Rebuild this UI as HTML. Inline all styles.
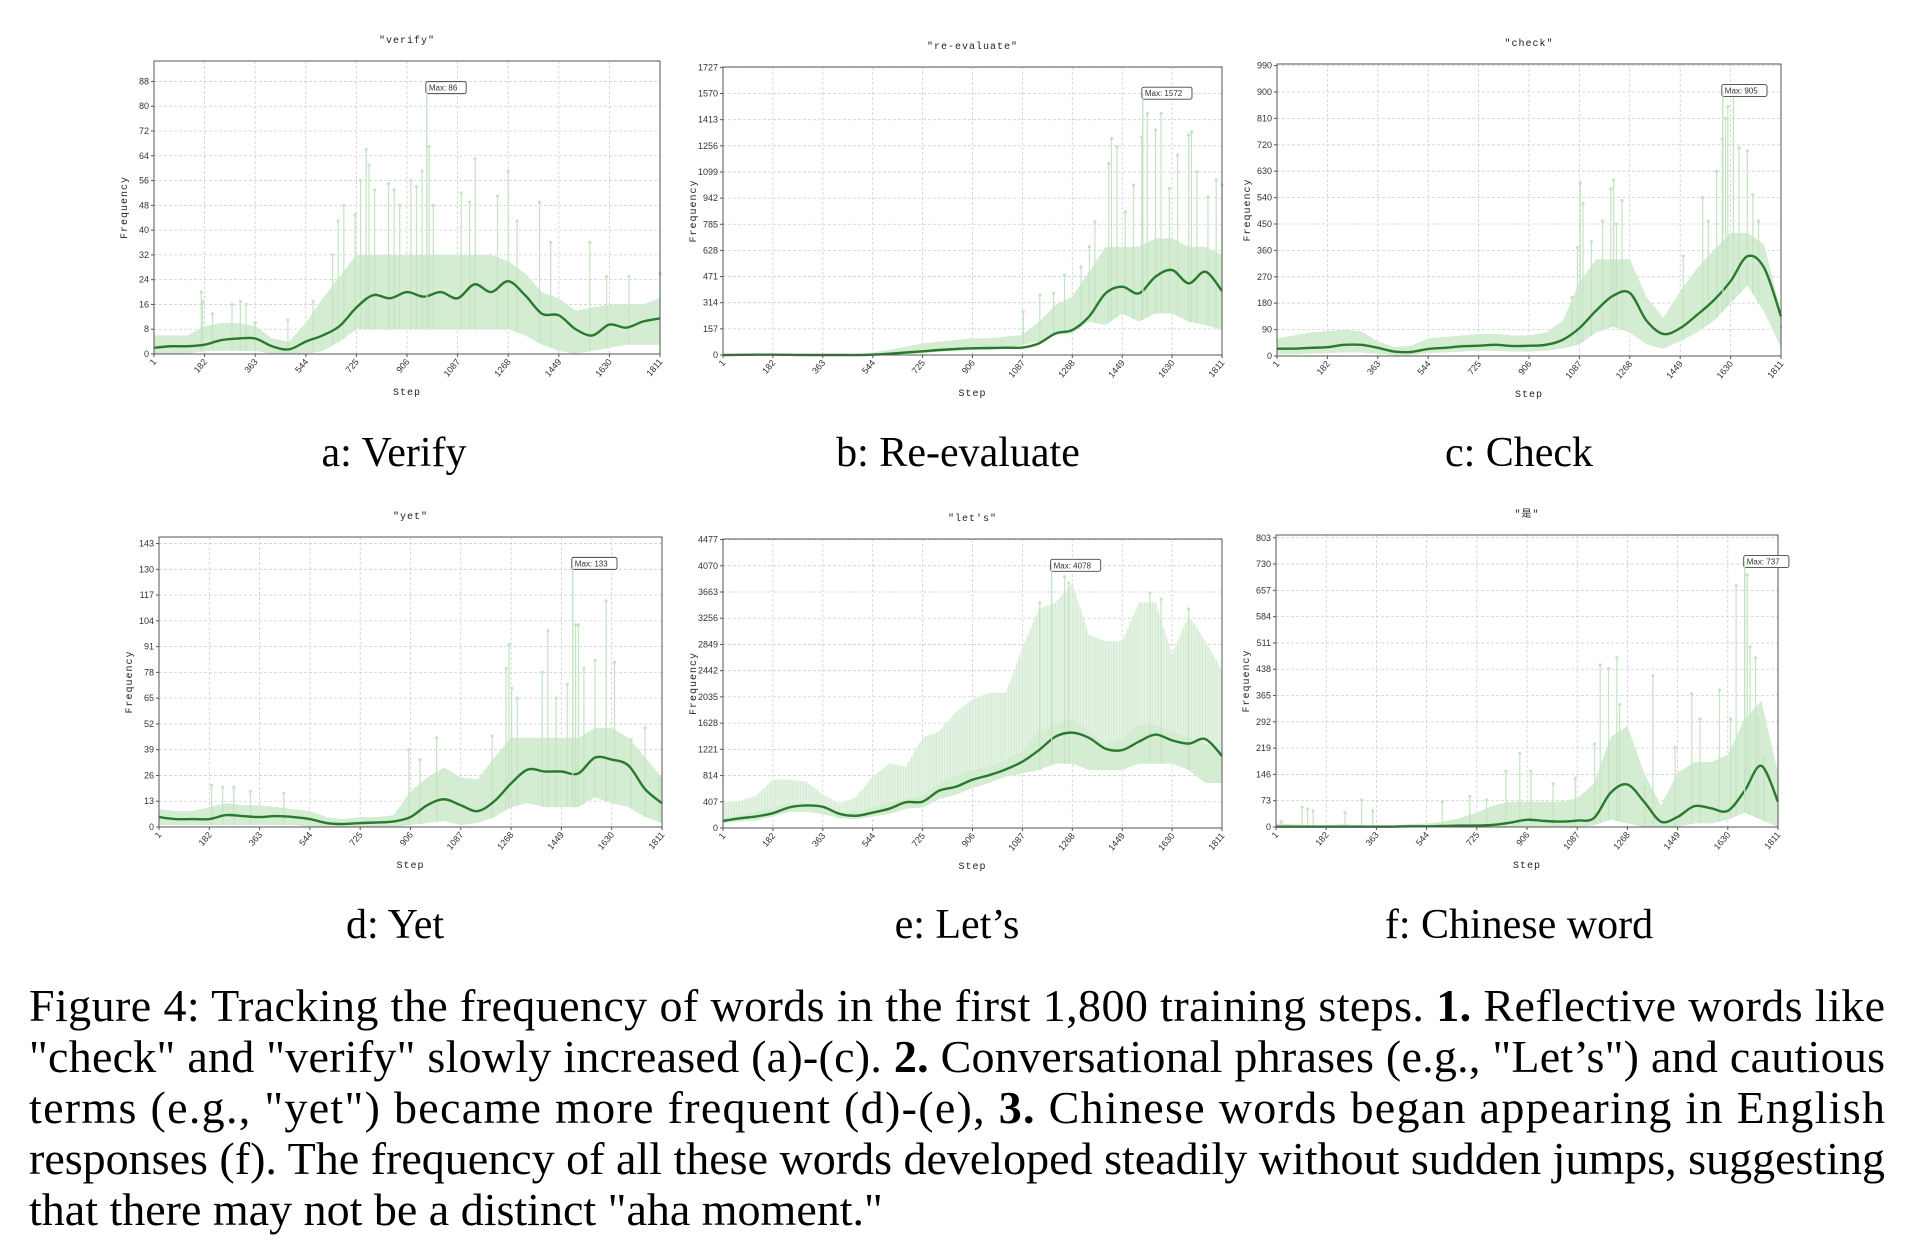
<!DOCTYPE html>
<html><head><meta charset="utf-8"><style>
html,body{margin:0;padding:0;background:#fff;}
svg{display:block;}
.tk{font-family:"WenQuanYi Zen Hei","Liberation Sans",sans-serif;font-size:9px;fill:#333;}
.ttl{font-family:"WenQuanYi Zen Hei","Liberation Mono",monospace;font-size:10px;fill:#222;letter-spacing:1px;}
.cap{font-family:"Liberation Serif",serif;font-size:42px;fill:#000;}
.body{font-family:"Liberation Serif",serif;font-size:46px;fill:#000;}
</style></head><body>
<svg id="fig" width="1916" height="1248" viewBox="0 0 1916 1248" xmlns="http://www.w3.org/2000/svg">
<g id="charts"></g>
<text class="cap" x="394" y="466" text-anchor="middle">a: Verify</text>
<text class="cap" x="958" y="466" text-anchor="middle">b: Re-evaluate</text>
<text class="cap" x="1519" y="466" text-anchor="middle">c: Check</text>
<text class="cap" x="395" y="938" text-anchor="middle">d: Yet</text>
<text class="cap" x="957" y="938" text-anchor="middle">e: Let’s</text>
<text class="cap" x="1519" y="938" text-anchor="middle">f: Chinese word</text>
<g>
<text class="body" x="29" y="1021" textLength="1856" lengthAdjust="spacing">Figure 4: Tracking the frequency of words in the first 1,800 training steps. <tspan font-weight="bold">1.</tspan> Reflective words like</text>
<text class="body" x="29" y="1072" textLength="1856" lengthAdjust="spacing">"check" and "verify" slowly increased (a)-(c). <tspan font-weight="bold">2.</tspan> Conversational phrases (e.g., "Let’s") and cautious</text>
<text class="body" x="29" y="1123" textLength="1856" lengthAdjust="spacing">terms (e.g., "yet") became more frequent (d)-(e), <tspan font-weight="bold">3.</tspan> Chinese words began appearing in English</text>
<text class="body" x="29" y="1174" textLength="1856" lengthAdjust="spacing">responses (f). The frequency of all these words developed steadily without sudden jumps, suggesting</text>
<text class="body" x="29" y="1225">that there may not be a distinct "aha moment."</text>
</g>
</svg>
<script>
// shared x-axis data
const xTicks = [1,182,363,544,725,906,1087,1268,1449,1630,1811];
// values sampled at 31 evenly spaced steps (1 .. 1811)
const verifySmooth = [2,2.5,2.5,3,4.5,5,5,2.5,1.5,4,6,9,15,19,18,20,18.5,20,18,22.5,20,23.5,19,13,12.5,8,6,9.5,8.5,10.5,11.5];
const verifyHi = [6,6,6,9,10,10,9,5,4,10,18,25,32,32,32,32,32,32,32,32,32,30,26,20,18,14,15,16,16,16,18];
const verifyLo = [0,0,0,1,1,1,1,0,0,0,1,4,8,8,8,8,8,8,8,8,8,8,6,3,1,0,1,2,3,3,3];
const verifySpikes = [[170,20],[175,17],[210,13],[280,16],[310,17],[330,16],[363,10],[480,11],[570,17],[640,32],[660,43],[680,48],[720,45],[740,56],[760,66],[770,61],[790,53],[840,55],[860,53],[880,48],[920,56],[940,54],[960,59],[977,86],[985,67],[1000,48],[1100,52],[1130,49],[1150,63],[1230,51],[1268,59],[1300,43],[1380,49],[1420,36],[1560,36],[1620,25],[1700,25],[1811,26]];
const verifyYTicks = [0,8,16,24,32,40,48,56,64,72,80,88];

const reevalSmooth = [0,1,2,2,1,0,0,0,0,2,8,15,22,30,36,40,42,44,45,70,130,150,230,370,410,370,470,510,430,500,385];
const reevalHi = [5,5,10,8,5,5,5,5,5,15,30,50,70,80,90,100,100,110,120,200,300,350,500,650,650,650,700,700,650,650,600];
const reevalLo = [0,0,0,0,0,0,0,0,0,0,0,5,10,20,25,30,30,40,60,80,120,130,200,180,250,200,250,250,200,180,150];
const reevalSpikes = [[1090,260],[1150,360],[1200,370],[1240,480],[1300,530],[1330,650],[1350,800],[1400,1150],[1410,1300],[1430,1250],[1460,860],[1490,1020],[1520,1310],[1524,1572],[1540,1450],[1570,1350],[1590,1450],[1620,1000],[1650,1200],[1690,1320],[1700,1340],[1720,1100],[1760,950],[1790,1050],[1811,1020]];
const reevalYTicks = [0,157,314,471,628,785,942,1099,1256,1413,1570,1727];

const checkSmooth = [25,25,28,30,38,38,28,15,14,24,28,33,35,38,34,35,38,55,95,155,205,215,120,75,95,140,190,255,340,300,135];
const checkHi = [60,70,80,85,90,85,50,30,35,60,65,70,75,75,70,70,80,120,250,330,330,330,200,130,220,300,360,420,420,380,150];
const checkLo = [5,5,8,10,12,12,8,2,3,10,12,15,18,18,15,15,18,25,40,80,100,80,40,25,50,80,120,180,240,150,30];
const checkSpikes = [[1060,200],[1080,370],[1090,590],[1100,520],[1130,390],[1170,460],[1200,570],[1210,600],[1220,450],[1240,530],[1460,340],[1530,540],[1550,460],[1580,630],[1600,740],[1602,905],[1612,810],[1620,850],[1640,890],[1660,710],[1690,700],[1710,550],[1730,460],[1811,100]];
const checkYTicks = [0,90,180,270,360,450,540,630,720,810,900,990];

const yetSmooth = [5,4,4,4,6,5.5,5,5.5,5,4,2,1.5,2,2.3,2.8,5,11,14,11,8,13,22,29,28,28,27,35,34,31,19,12];
const yetHi = [9,8,8,10,12,11,11,10,9,8,5,4,5,5,6,18,25,30,25,24,35,45,45,45,45,45,50,50,45,35,25];
const yetLo = [1,1,1,1,1,1,1,1,1,0,0,0,0,0,0,1,2,3,1,2,5,10,12,10,10,10,15,12,10,5,2];
const yetSpikes = [[190,21],[230,20],[270,20],[330,18],[450,17],[900,39],[940,34],[1000,45],[1200,46],[1250,80],[1260,92],[1270,70],[1290,65],[1380,78],[1400,99],[1430,65],[1470,72],[1490,133],[1500,102],[1510,102],[1530,80],[1570,84],[1610,114],[1640,83],[1700,44],[1750,50],[1800,24]];
const yetYTicks = [0,13,26,39,52,65,78,91,104,117,130,143];

const letsSmooth = [110,150,180,230,320,350,330,220,190,240,300,400,410,580,640,750,820,910,1030,1210,1420,1480,1400,1230,1210,1340,1450,1360,1310,1380,1120];
const letsTop = [400,420,500,750,750,720,520,380,480,800,1000,950,1400,1500,1800,2000,2100,2100,2800,3400,3500,3800,3000,2900,2900,3500,3500,2700,3300,2900,2450];
const letsHi = [150,200,250,320,380,380,330,250,250,320,400,450,500,700,800,900,950,1050,1200,1500,1600,1700,1500,1300,1400,1600,1600,1500,1400,1300,1200];
const letsLo = [80,100,120,180,250,250,220,150,140,180,220,300,320,450,520,620,700,800,850,900,1000,1000,900,900,900,1000,1000,1000,900,700,700];
const letsSpikes = [[1193,4078],[1240,3900],[1255,3800],[1150,3500],[1550,3650],[1590,3550],[1690,3400]];
const letsYTicks = [0,407,814,1221,1628,2035,2442,2849,3256,3663,4070,4477];

const shiSmooth = [1,1,1,1,1,1,1,1,2,2,3,4,4,6,12,20,17,15,18,25,95,118,70,15,28,58,52,45,100,170,70];
const shiHi = [10,8,5,5,8,5,5,5,8,10,15,25,40,60,70,70,70,70,80,120,250,280,150,60,150,180,180,200,300,350,150];
const shiLo = [0,0,0,0,0,0,0,0,0,0,0,0,0,0,0,0,0,0,0,5,20,10,0,0,0,10,10,20,40,20,0];
const shiSpikes = [[20,15],[95,55],[115,50],[135,45],[250,40],[310,75],[350,45],[600,70],[700,85],[760,75],[830,155],[880,205],[920,155],[1000,120],[1080,135],[1150,230],[1170,450],[1200,440],[1230,470],[1240,340],[1330,110],[1360,420],[1440,220],[1500,370],[1530,300],[1600,380],[1640,300],[1660,670],[1691,737],[1700,700],[1710,500],[1730,470],[1740,300],[1760,190]];
const shiYTicks = [0,73,146,219,292,365,438,511,584,657,730,803];

const NS = 'http://www.w3.org/2000/svg';
function mk(tag, attrs, parent){const e=document.createElementNS(NS,tag);for(const k in attrs)e.setAttribute(k,attrs[k]);if(parent)parent.appendChild(e);return e;}
function interp(arr, step){const t=(step-1)/1810*(arr.length-1);const i=Math.min(Math.floor(t),arr.length-2);const f=t-i;return arr[i]*(1-f)+arr[i+1]*f;}

function drawChart(cfg){
  const root=document.getElementById('charts');
  const g=mk('g',{},root);
  
  
  const L=cfg.l,R=cfg.r,T=cfg.t,B=cfg.b;
  const yMax=cfg.maxVal*1.1;
  const X=s=>L+(s-1)/1810*(R-L);
  const Y=v=>B-v/yMax*(B-T);
  const grid=mk('g',{},g);
  
  
  cfg.yTicks.forEach(v=>{mk('line',{x1:L,x2:R,y1:Y(v),y2:Y(v),stroke:'#d0d0d0','stroke-width':0.8,'stroke-dasharray':'3,2'},grid);});
  xTicks.forEach(s=>{mk('line',{x1:X(s),x2:X(s),y1:T,y2:B,stroke:'#d0d0d0','stroke-width':0.8,'stroke-dasharray':'3,2'},grid);});
  const N=120;
  if(cfg.top){
    let pts=[];
    for(let i=0;i<=N;i++){const s=1+i*1810/N;pts.push(X(s)+','+Y(interp(cfg.top,s)));}
    for(let i=N;i>=0;i--){const s=1+i*1810/N;pts.push(X(s)+','+Y(interp(cfg.lo,s)));}
    const p=mk('polygon',{points:pts.join(' '),fill:'#e4f3e3'},g);
    
    
    for(let i=0;i<=180;i++){const s=1+i*1810/180;mk('line',{x1:X(s),x2:X(s),y1:Y(interp(cfg.lo,s)),y2:Y(interp(cfg.top,s)),stroke:'#cfe8cf','stroke-width':0.7},g);}
  }
  let pts=[];
  for(let i=0;i<=N;i++){const s=1+i*1810/N;pts.push(X(s)+','+Y(interp(cfg.hi,s)));}
  for(let i=N;i>=0;i--){const s=1+i*1810/N;pts.push(X(s)+','+Y(interp(cfg.lo,s)));}
  const band=mk('polygon',{points:pts.join(' '),fill:'#d3ecd2'},g);
  
  
  cfg.spikes.forEach(([s,v])=>{
    const sp=mk('g',{},g);
    
    
    mk('line',{x1:X(s),x2:X(s),y1:Y(interp(cfg.lo,s)),y2:Y(v),stroke:'#c4e4c3','stroke-width':1.2},sp);
    mk('circle',{cx:X(s),cy:Y(v),r:1.6,fill:'#c4e4c3'},sp);
  });
  const sp=cfg.smooth.map((v,i)=>[X(1+i*1810/(cfg.smooth.length-1)),Y(v)]);
  let d='M'+sp[0][0]+','+sp[0][1];
  for(let i=0;i<sp.length-1;i++){
    const p0=sp[Math.max(i-1,0)],p1=sp[i],p2=sp[i+1],p3=sp[Math.min(i+2,sp.length-1)];
    const c1=[p1[0]+(p2[0]-p0[0])/6,p1[1]+(p2[1]-p0[1])/6];
    const c2=[p2[0]-(p3[0]-p1[0])/6,p2[1]-(p3[1]-p1[1])/6];
    d+=' C'+c1[0]+','+c1[1]+' '+c2[0]+','+c2[1]+' '+p2[0]+','+p2[1];
  }
  const line=mk('path',{d:d,fill:'none',stroke:'#2a7a2e','stroke-width':2.4},g);
  
  
  const fr=mk('rect',{x:L,y:T,width:R-L,height:B-T,fill:'none',stroke:'#555','stroke-width':1},g);
  
  
  cfg.yTicks.forEach(v=>{
    mk('line',{x1:L-3,x2:L,y1:Y(v),y2:Y(v),stroke:'#555'},g);
    const t=mk('text',{x:L-5,y:Y(v)+3,'text-anchor':'end',class:'tk'},g);
    t.textContent=v;
    
    
  });
  xTicks.forEach(s=>{
    mk('line',{x1:X(s),x2:X(s),y1:B,y2:B+3,stroke:'#555'},g);
    const t=mk('text',{x:X(s)+3,y:B+8,'text-anchor':'end',class:'tk',transform:'rotate(-50 '+(X(s)+3)+' '+(B+8)+')'},g);
    t.textContent=s;
    
    
  });
  const tt=mk('text',{x:(L+R)/2,y:T-18,'text-anchor':'middle',class:'ttl'},g);
  tt.textContent=cfg.title;
  
  
  const xl=mk('text',{x:(L+R)/2,y:B+41,'text-anchor':'middle',class:'ttl'},g);
  xl.textContent='Step';
  
  
  const yx=L-27,yy=(T+B)/2;
  const yl=mk('text',{x:yx,y:yy,'text-anchor':'middle',class:'ttl',transform:'rotate(-90 '+yx+' '+yy+')'},g);
  yl.textContent='Frequency';
  
  
  const mg=mk('g',{},g);
  
  
  const label='Max: '+cfg.maxVal;
  const w=label.length*4.9+6;
  const mx=X(cfg.maxStep),my=Y(cfg.maxVal);
  mk('line',{x1:mx,x2:mx,y1:Y(interp(cfg.lo,cfg.maxStep)),y2:my,stroke:'#c4e4c3','stroke-width':1.2},g);
  mk('rect',{x:mx-1,y:my-6,width:w,height:12,rx:2,fill:'#fff',stroke:'#444','stroke-width':0.9},mg);
  const mt=mk('text',{x:mx+2,y:my+3,class:'tk'},mg);
  mt.setAttribute('style','font-size:8px');
  mt.textContent=label;
}

drawChart({name:'chart-verify',title:'"verify"',l:154,r:660,t:61,b:354,maxVal:86,maxStep:977,yTicks:verifyYTicks,smooth:verifySmooth,hi:verifyHi,lo:verifyLo,spikes:verifySpikes});
drawChart({name:'chart-re-evaluate',title:'"re-evaluate"',l:723,r:1222,t:67,b:355,maxVal:1572,maxStep:1524,yTicks:reevalYTicks,smooth:reevalSmooth,hi:reevalHi,lo:reevalLo,spikes:reevalSpikes});
drawChart({name:'chart-check',title:'"check"',l:1277,r:1781,t:64,b:356,maxVal:905,maxStep:1602,yTicks:checkYTicks,smooth:checkSmooth,hi:checkHi,lo:checkLo,spikes:checkSpikes});
drawChart({name:'chart-yet',title:'"yet"',l:159,r:662,t:537,b:827,maxVal:133,maxStep:1490,yTicks:yetYTicks,smooth:yetSmooth,hi:yetHi,lo:yetLo,spikes:yetSpikes});
drawChart({name:'chart-lets',title:'"let\'s"',l:723,r:1222,t:539,b:828,maxVal:4078,maxStep:1193,yTicks:letsYTicks,smooth:letsSmooth,top:letsTop,hi:letsHi,lo:letsLo,spikes:letsSpikes});
drawChart({name:'chart-chinese-word',title:'"是"',l:1276,r:1778,t:535,b:827,maxVal:737,maxStep:1691,yTicks:shiYTicks,smooth:shiSmooth,hi:shiHi,lo:shiLo,spikes:shiSpikes});
</script>
</body></html>
